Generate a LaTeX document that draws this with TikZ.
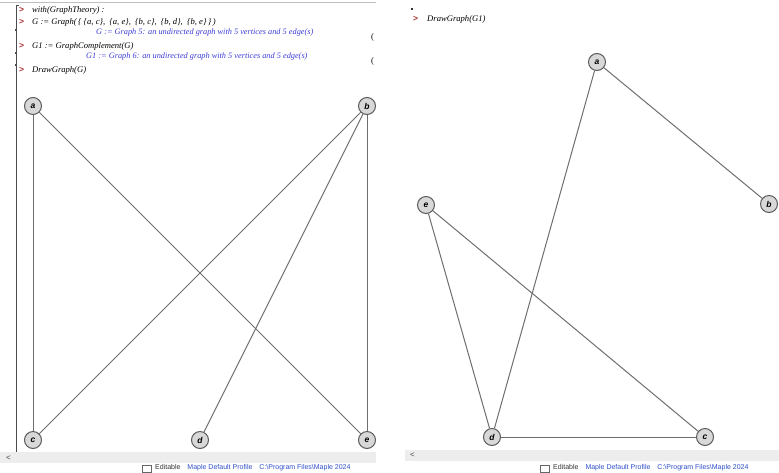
\documentclass[tikz,border=0pt]{standalone}
\usepackage{fontspec}
\setmainfont{Liberation Serif}
\newfontfamily\uisans{Liberation Sans}
\definecolor{edgegray}{HTML}{6E6E6E}
\definecolor{nodefill}{HTML}{D8D8D8}
\definecolor{nodeline}{HTML}{5A5A5A}
\definecolor{outblue}{HTML}{3B3BD6}
\definecolor{promptred}{HTML}{A83232}
\definecolor{stripgray}{HTML}{EDEDED}
\definecolor{statblue}{HTML}{2F4FC8}
\tikzset{
  vtx/.style={circle, draw=nodeline, fill=nodefill, line width=1pt, minimum size=17pt, inner sep=0pt,
    font=\uisans\bfseries\itshape\fontsize{8.5}{8.5}\selectfont},
  gedge/.style={draw=edgegray, line width=1pt},
  prompt/.style={anchor=west, inner sep=0pt, text=promptred, font=\uisans\bfseries\fontsize{8.5}{8.5}\selectfont},
  cmd/.style={anchor=west, inner sep=0pt, font=\itshape\fontsize{8.6}{9}\selectfont},
  outp/.style={anchor=west, inner sep=0pt, text=outblue, font=\itshape\fontsize{8.3}{9}\selectfont},
  eqlab/.style={anchor=west, inner sep=0pt, font=\fontsize{8.5}{9}\selectfont},
  status/.style={anchor=west, inner sep=0pt, text=statblue, font=\uisans\fontsize{7}{8}\selectfont},
}
\begin{document}
\begin{tikzpicture}[x=1pt,y=-1pt]
\useasboundingbox (0,0) rectangle (779,472);
% ---------- left screenshot ----------
\draw[line width=0.6pt, black!25] (0,2) -- (376,2);
\draw[line width=0.8pt, black!70] (16,5) -- (16,452) -- (19,452);
\draw[line width=0.8pt, black!70] (16,5) -- (19,5);
\fill[black!70] (15,29) rectangle (17,31);
\fill[black!70] (15,52) rectangle (17,54);
\fill[black!70] (15,64) rectangle (17,66);
\node[prompt] (p1) at (19,10) {>};
\node[cmd] (l1) at (32,10) {with(GraphTheory) :};
\node[prompt] (p2) at (19,22) {>};
\node[cmd] (l2) at (32,22) {G {:}= Graph(\,\{\ \{a,\ c\},\ \ \{a,\ e\},\ \ \{b,\ c\},\ \ \{b,\ d\},\ \ \{b,\ e\}\,\}\,)};
\node[outp] (o1) at (96,33) {G {:}= Graph 5: an undirected graph with 5 vertices and 5 edge(s)};
\node[eqlab] (q1) at (371,37) {(};
\node[prompt] (p3) at (19,46) {>};
\node[cmd] (l3) at (32,46) {G1 {:}= GraphComplement(G)};
\node[outp] (o2) at (86,57) {G1 {:}= Graph 6: an undirected graph with 5 vertices and 5 edge(s)};
\node[eqlab] (q2) at (371,61) {(};
\node[prompt] (p4) at (19,70) {>};
\node[cmd] (l4) at (32,70) {DrawGraph(G)};

\node[vtx] (La) at (33,106) {a};
\node[vtx] (Lb) at (367,106) {b};
\node[vtx] (Lc) at (33,440) {c};
\node[vtx] (Ld) at (200,440) {d};
\node[vtx] (Le) at (367,440) {e};
\draw[gedge] (La) -- (Lc);
\draw[gedge] (La) -- (Le);
\draw[gedge] (Lb) -- (Lc);
\draw[gedge] (Lb) -- (Ld);
\draw[gedge] (Lb) -- (Le);

\fill[stripgray] (0,452) rectangle (376,463);
\node[anchor=west, inner sep=0pt, font=\uisans\fontsize{8}{8}\selectfont, text=black!70] (lt) at (6,458) {<};
\draw[black!60, line width=0.6pt] (142,465) rectangle (151,472);
\node[status] (s1) at (155,468) {\textcolor{black!80}{Editable}\quad Maple Default Profile\quad C:\textbackslash Program Files\textbackslash Maple 2024};

% ---------- right screenshot ----------
\fill[black!80] (411,8) rectangle (413,10);
\node[prompt] (p5) at (413,19) {>};
\node[cmd] (l5) at (427,19) {DrawGraph(G1)};

\node[vtx] (Ra) at (597,62) {a};
\node[vtx] (Rb) at (769,204) {b};
\node[vtx] (Re) at (426,205) {e};
\node[vtx] (Rd) at (492,437) {d};
\node[vtx] (Rc) at (705,437) {c};
\draw[gedge] (Ra) -- (Rb);
\draw[gedge] (Ra) -- (Rd);
\draw[gedge] (Rd) -- (Rc);
\draw[gedge] (Re) -- (Rc);
\draw[gedge] (Re) -- (Rd);

\fill[stripgray] (405,450) rectangle (779,461);
\node[anchor=west, inner sep=0pt, font=\uisans\fontsize{8}{8}\selectfont, text=black!70] (rt) at (410,455) {<};
\draw[black!60, line width=0.6pt] (540,465) rectangle (549,472);
\node[status] (s2) at (553,468) {\textcolor{black!80}{Editable}\quad Maple Default Profile\quad C:\textbackslash Program Files\textbackslash Maple 2024};
\end{tikzpicture}
\end{document}
